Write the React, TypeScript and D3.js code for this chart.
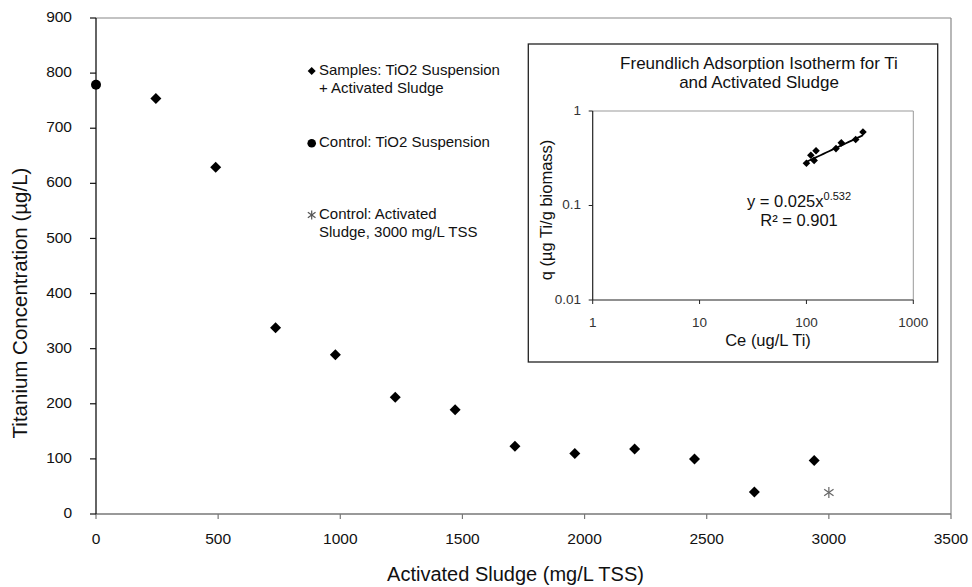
import React from "react";
import * as d3 from "d3";

// Main chart data
const sampleSludge = [245, 490, 735, 980, 1225, 1470, 1715, 1960, 2205, 2450, 2695, 2940];
const sampleTi = [754, 629, 338, 289, 212, 189, 123, 110, 118, 100, 40, 97];
const controlTiSludge = [0];
const controlTiValue = [779];
const controlSludgeX = [3000];
const controlSludgeValue = [39];
const xTicks = [0, 500, 1000, 1500, 2000, 2500, 3000, 3500];
const yTicks = [0, 100, 200, 300, 400, 500, 600, 700, 800, 900];

// Inset (Freundlich isotherm)
const insetCe = [338, 289, 212, 189, 123, 110, 118, 100];
const insetQ = [0.6, 0.5, 0.46, 0.4, 0.38, 0.34, 0.3, 0.28];
const insetXTicks = [1, 10, 100, 1000];
const insetYTicks = [1, 0.1, 0.01];
const fitK = 0.025;
const fitN = 0.532;

const FONT = "'Liberation Sans', Arial, sans-serif";

const diamond = (r: number) => `M0,${-r}L${r},0L0,${r}L${-r},0Z`;

export default function App() {
  const left = 96, right = 951, top = 18, bottom = 514;
  const x = d3.scaleLinear().domain([0, 3500]).range([left, right]);
  const y = d3.scaleLinear().domain([0, 900]).range([bottom, top]);

  // inset
  const iL = 592.7, iR = 913.3, iT = 111, iB = 300;
  const ix = d3.scaleLog().domain([1, 1000]).range([iL, iR]);
  const iy = d3.scaleLog().domain([0.01, 1]).range([iB, iT]);
  const ceMin = d3.min(insetCe) as number;
  const ceMax = d3.max(insetCe) as number;
  const fitLine = d3.line<number>()
    .x((c) => ix(c))
    .y((c) => iy(fitK * Math.pow(c, fitN)));
  const fitPts = d3.range(0, 21).map((i) => ceMin * Math.pow(ceMax / ceMin, i / 20));

  const star = (cx: number, cy: number, r: number, color: string) => (
    <g transform={`translate(${cx},${cy})`} stroke={color} strokeWidth={1.2}>
      <line x1={0} y1={-r} x2={0} y2={r} />
      <line x1={-r * 0.85} y1={-r * 0.6} x2={r * 0.85} y2={r * 0.6} />
      <line x1={-r * 0.85} y1={r * 0.6} x2={r * 0.85} y2={-r * 0.6} />
    </g>
  );

  return (
    <svg
      width={972}
      height={587}
      style={{ position: "absolute", left: 0, top: 0, background: "#fff" }}
      fontFamily={FONT}
    >
      <rect x={0} y={0} width={972} height={587} fill="#fff" />
      {/* plot border */}
      <line x1={left} y1={top} x2={right} y2={top} stroke="#888" strokeWidth={1.2} />
      <line x1={right} y1={top} x2={right} y2={bottom} stroke="#888" strokeWidth={1.2} />
      {/* x axis */}
      <line x1={left} y1={bottom} x2={right} y2={bottom} stroke="#777" strokeWidth={1.5} />
      {xTicks.map((t) => (
        <g key={"xt" + t}>
          <line x1={x(t)} y1={bottom} x2={x(t)} y2={bottom + 5} stroke="#777" strokeWidth={1.2} />
          <text x={x(t)} y={540} textAnchor="middle" dominantBaseline="middle" fontSize={15.5} fill="#111">
            {t}
          </text>
        </g>
      ))}
      {/* y axis */}
      <line x1={left} y1={top} x2={left} y2={bottom} stroke="#111" strokeWidth={1.3} />
      {yTicks.map((t) => (
        <g key={"yt" + t}>
          <line x1={left - 6} y1={y(t)} x2={left} y2={y(t)} stroke="#111" strokeWidth={1.2} />
          <text x={72} y={y(t)} textAnchor="end" dominantBaseline="middle" fontSize={15.5} fill="#111">
            {t}
          </text>
        </g>
      ))}
      {/* axis titles */}
      <text x={515.5} y={576} textAnchor="middle" dominantBaseline="middle" fontSize={20} fill="#111">
        Activated Sludge (mg/L TSS)
      </text>
      <text
        transform={`translate(22,303) rotate(-90)`}
        textAnchor="middle"
        dominantBaseline="middle"
        fontSize={20.5}
        fill="#111"
      >
        Titanium Concentration (µg/L)
      </text>

      {/* data */}
      {sampleSludge.map((s, i) => (
        <path key={"d" + i} d={diamond(5.5)} transform={`translate(${x(s)},${y(sampleTi[i])})`} fill="#000" />
      ))}
      {controlTiSludge.map((s, i) => (
        <circle key={"c" + i} cx={x(s)} cy={y(controlTiValue[i])} r={5} fill="#000" />
      ))}
      {controlSludgeX.map((s, i) => (
        <g key={"s" + i}>{star(x(s), y(controlSludgeValue[i]), 5.5, "#666")}</g>
      ))}

      {/* legend */}
      <path d={diamond(4)} transform="translate(311.7,71)" fill="#000" />
      <text x={319} y={71} dominantBaseline="middle" fontSize={15} fill="#111">Samples: TiO2 Suspension</text>
      <text x={319} y={89.5} dominantBaseline="middle" fontSize={15} fill="#111">+ Activated Sludge</text>
      <circle cx={311.7} cy={143.3} r={4.3} fill="#000" />
      <text x={319} y={143.3} dominantBaseline="middle" fontSize={15} fill="#111">Control: TiO2 Suspension</text>
      {star(311.7, 215, 4.5, "#555")}
      <text x={319} y={215} dominantBaseline="middle" fontSize={15} fill="#111">Control: Activated</text>
      <text x={319} y={233.5} dominantBaseline="middle" fontSize={15} fill="#111">Sludge, 3000 mg/L TSS</text>

      {/* inset box */}
      <rect x={528.3} y={44} width={409.4} height={318} fill="#fff" stroke="#222" strokeWidth={1.3} />
      <text x={759} y={64.3} textAnchor="middle" dominantBaseline="middle" fontSize={17} fill="#111">
        Freundlich Adsorption Isotherm for Ti
      </text>
      <text x={759} y={83.3} textAnchor="middle" dominantBaseline="middle" fontSize={17} fill="#111">
        and Activated Sludge
      </text>
      <line x1={iL} y1={iT} x2={iR} y2={iT} stroke="#999" strokeWidth={1} />
      <line x1={iR} y1={iT} x2={iR} y2={iB} stroke="#999" strokeWidth={1} />
      <line x1={iL} y1={iB} x2={iR} y2={iB} stroke="#222" strokeWidth={1.2} />
      <line x1={iL} y1={iT} x2={iL} y2={iB} stroke="#222" strokeWidth={1.2} />
      {insetXTicks.map((t) => (
        <g key={"ixt" + t}>
          <line x1={ix(t)} y1={iB} x2={ix(t)} y2={iB + 4} stroke="#222" />
          <text x={ix(t)} y={323} textAnchor="middle" dominantBaseline="middle" fontSize={13.5} fill="#333">
            {t}
          </text>
        </g>
      ))}
      {insetYTicks.map((t) => (
        <g key={"iyt" + t}>
          <line x1={iL - 4} y1={iy(t)} x2={iL} y2={iy(t)} stroke="#222" />
          <text x={581} y={iy(t)} textAnchor="end" dominantBaseline="middle" fontSize={13.5} fill="#333">
            {t}
          </text>
        </g>
      ))}
      <text x={768} y={341.7} textAnchor="middle" dominantBaseline="middle" fontSize={16.5} fill="#111">
        Ce (ug/L Ti)
      </text>
      <text
        transform={`translate(548,210) rotate(-90)`}
        textAnchor="middle"
        dominantBaseline="middle"
        fontSize={16.5}
        fill="#111"
      >
        q (µg Ti/g biomass)
      </text>
      {insetCe.map((c, i) => (
        <path key={"id" + i} d={diamond(3.8)} transform={`translate(${ix(c)},${iy(insetQ[i])})`} fill="#000" />
      ))}
      <path d={fitLine(fitPts) || ""} fill="none" stroke="#000" strokeWidth={1.8} />
      <text x={799} y={203} textAnchor="middle" dominantBaseline="middle" fontSize={16.5} fill="#111">
        y = 0.025x
        <tspan fontSize={11} dy={-6}>0.532</tspan>
      </text>
      <text x={799} y={221.7} textAnchor="middle" dominantBaseline="middle" fontSize={16.5} fill="#111">
        R² = 0.901
      </text>
    </svg>
  );
}
